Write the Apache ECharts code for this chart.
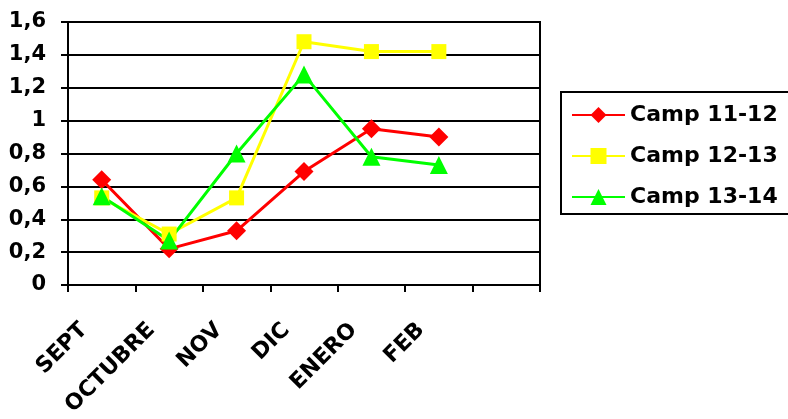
<!DOCTYPE html>
<html><head><meta charset="utf-8">
<script src="https://cdn.jsdelivr.net/npm/echarts@6/dist/echarts.min.js"></script>
<style>html,body{margin:0;padding:0;background:#fff}#c{width:788px;height:419px}</style>
</head><body><div id="c"></div>
<script>
const categories = ['SEPT','OCTUBRE','NOV','DIC','ENERO','FEB',''];
const camp1112 = [0.64, 0.22, 0.33, 0.69, 0.95, 0.90];
const camp1213 = [0.53, 0.31, 0.53, 1.48, 1.42, 1.42];
const camp1314 = [0.54, 0.27, 0.80, 1.28, 0.78, 0.73];
const FONT = 'DejaVu Sans';
const chart = echarts.init(document.getElementById('c'), null, {renderer:'canvas'});
function ser(name, data, color, symbol, size){
  return {name, type:'line', data, symbol, symbolSize:size, showSymbol:true,
    lineStyle:{color, width:3}, itemStyle:{color}, animation:false};
}
chart.setOption({
  backgroundColor:'#fff',
  animation:false,
  grid:{left:68, right:248, top:22, bottom:134, show:true, borderColor:'#000', borderWidth:2, backgroundColor:'transparent'},
  xAxis:{type:'category', data:categories, boundaryGap:true,
    axisLine:{lineStyle:{color:'#000', width:2}},
    axisTick:{show:true, inside:false, length:7, lineStyle:{color:'#000', width:2}},
    axisLabel:{rotate:45, interval:0, margin:24, padding:[0,25,0,0], color:'#000', fontFamily:FONT, fontWeight:'bold', fontSize:22}
  },
  yAxis:{type:'value', min:0, max:1.6, interval:0.2,
    axisLine:{show:true, lineStyle:{color:'#000', width:2}},
    axisTick:{show:true, inside:false, length:7, lineStyle:{color:'#000', width:2}},
    splitLine:{show:true, lineStyle:{color:'#000', width:2}},
    axisLabel:{margin:22, color:'#000', fontFamily:FONT, fontWeight:'bold', fontSize:21,
      formatter:v=>String(Math.round(v*10)/10).replace('.',',')}
  },
  legend:{orient:'vertical', left:561, top:92, padding:[12,60,6,10], itemGap:19,
    itemWidth:53, itemHeight:20, borderColor:'#000', borderWidth:2,
    textStyle:{color:'#000', fontFamily:FONT, fontWeight:'bold', fontSize:22, lineHeight:22, padding:[0,0,0,0]},
    data:['Camp 11-12','Camp 12-13','Camp 13-14']},
  series:[
    ser('Camp 11-12', camp1112, '#ff0000', 'diamond', 19),
    ser('Camp 12-13', camp1213, '#ffff00', 'rect', 15),
    ser('Camp 13-14', camp1314, '#00ff00', 'triangle', 18)
  ]
});
</script></body></html>
